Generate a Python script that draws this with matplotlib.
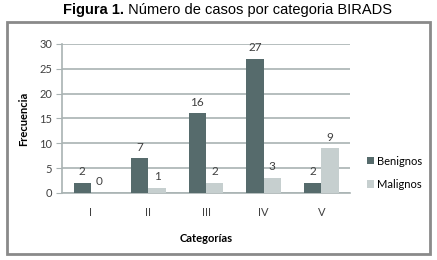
import matplotlib.pyplot as plt
import numpy as np
from matplotlib.patches import Rectangle

categorias = ["I", "II", "III", "IV", "V"]
benignos = [2, 7, 16, 27, 2]
malignos = [0, 1, 2, 3, 9]

DARK = '#566b6c'
LIGHT = '#c6cfcf'
GRID = '#a9b3b3'
TEXT = '#404040'
FONT = 'Lato'

fig = plt.figure(figsize=(4.37, 2.6), dpi=100)
ax = fig.add_axes([0.142, 0.258, 0.659, 0.573])

x = np.arange(len(categorias))
w = 0.3
b1 = ax.bar(x - w / 2, benignos, w, color=DARK, label='Benignos', zorder=3)
b2 = ax.bar(x + w / 2, malignos, w, color=LIGHT, label='Malignos', zorder=3)

# value labels
for bars in (b1, b2):
    for rect in bars:
        h = rect.get_height()
        ax.annotate(f"{int(h)}", (rect.get_x() + rect.get_width() / 2, h),
                    xytext=(0, 4), textcoords='offset points', ha='center', va='bottom',
                    fontsize=8.5, color=TEXT, family=FONT)

ax.set_xlim(-0.5, len(categorias) - 0.5)
ax.set_ylim(0, 30)
ax.set_yticks(range(0, 31, 5))
ax.set_xticks(x)
ax.set_xticklabels(categorias)
ax.yaxis.grid(True, color=GRID, linewidth=1.2, zorder=0)
ax.set_axisbelow(True)

for side in ('top', 'right'):
    ax.spines[side].set_visible(False)
for side in ('left', 'bottom'):
    ax.spines[side].set_color(GRID)
    ax.spines[side].set_linewidth(1.2)

ax.tick_params(axis='y', length=4, color=GRID, labelsize=8, labelcolor=TEXT, pad=3)
ax.tick_params(axis='x', length=0, labelsize=8, labelcolor=TEXT, pad=10)
for lbl in ax.get_xticklabels() + ax.get_yticklabels():
    lbl.set_family(FONT)

ax.set_ylabel('Frecuencia', fontsize=8, fontweight='bold', family=FONT, labelpad=7)
ax.set_xlabel('Categorías', fontsize=8, fontweight='bold', family=FONT, labelpad=11)

ax.legend(loc='center left', bbox_to_anchor=(1.025, 0.135), frameon=False,
          prop={'family': FONT, 'size': 8}, handlelength=0.6, handleheight=0.6,
          handletextpad=0.3, labelspacing=1.1)

# outer frame
fig.patches.append(Rectangle((0.016, 0.023), 0.968, 0.892, transform=fig.transFigure,
                             fill=False, edgecolor='#8a8a8a', linewidth=2))

# title
t1 = fig.text(0.144, 0.962, "Figura 1.", fontsize=10.5, fontweight='bold',
              family='Liberation Sans', ha='left', va='center')
ax.annotate(" Número de casos por categoria BIRADS", xy=(1, 0), xycoords=t1,
            ha='left', va='bottom', fontsize=10.5, family='Liberation Sans',
            annotation_clip=False)

plt.savefig('out.png', dpi=100, facecolor='white')
